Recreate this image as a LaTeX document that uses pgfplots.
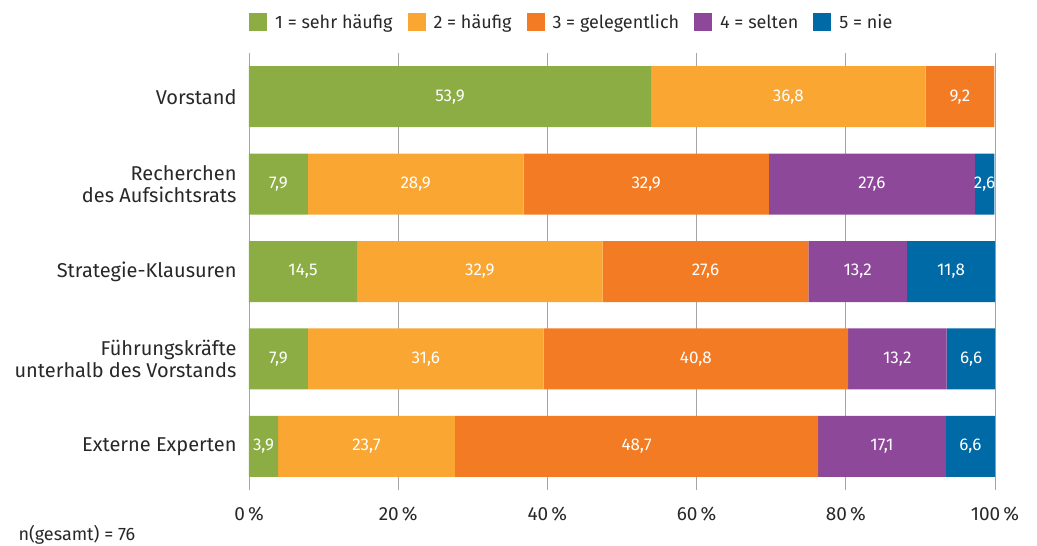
\documentclass[border=0pt]{standalone}
\usepackage{fontspec}
\setmainfont{Fira Sans}
\usepackage{pgfplots}
\usepackage{pgfplotstable}
\pgfplotsset{compat=1.18}

\definecolor{cgreen}{RGB}{139,173,67}
\definecolor{corange}{RGB}{249,166,51}
\definecolor{cdarkorange}{RGB}{243,123,35}
\definecolor{cpurple}{RGB}{142,72,153}
\definecolor{cblue}{RGB}{0,106,166}
\definecolor{cgrid}{RGB}{165,165,165}
\definecolor{ctext}{RGB}{40,40,40}

% Anteile in Prozent je Quelle (1 = sehr häufig ... 5 = nie)
\pgfplotstableread{
y s1   s2   s3   s4   s5
0 53.9 36.8 9.2  0    0
1 7.9  28.9 32.9 27.6 2.6
2 14.5 32.9 27.6 13.2 11.8
3 7.9  31.6 40.8 13.2 6.6
4 3.9  23.7 48.7 17.1 6.6
}\quellen

\pgfplotsset{
  frame/.style={
    at={(0,0)}, anchor=south west,
    scale only axis, width=746pt, height=437pt,
    xmin=0, xmax=100, ymin=-0.5, ymax=4.5, y dir=reverse,
  },
  seg/.style={draw=none, fill=#1},
  lbl/.style={only marks, mark=*, mark size=0pt, mark options={draw=none, fill=none}},
}

\begin{document}
\begin{tikzpicture}
\path[use as bounding box] (-249pt,-56pt) rectangle (788pt,490pt);
% gestapelte Balken
\begin{axis}[
  frame,
  xbar stacked, bar width=61pt,
  xtick={0,20,40,60,80,100},
  xticklabels={0\,\%,20\,\%,40\,\%,60\,\%,80\,\%,100\,\%},
  ytick={0,1,2,3,4},
  yticklabels={Vorstand,{Recherchen\\des Aufsichtsrats},Strategie-Klausuren,{Führungskräfte\\unterhalb des Vorstands},Externe Experten},
  yticklabel style={align=right, font=\fontsize{20}{22}\selectfont, text=ctext, xshift=-9pt},
  xticklabel style={font=\fontsize{19}{22}\selectfont, text=ctext, yshift=-13pt},
  major tick length=0pt,
  xmajorgrids, grid style={cgrid, line width=0.9pt},
  x axis line style={draw=none},
  y axis line style={cgrid, line width=0.9pt},
  legend columns=5,
  legend style={at={(axis description cs:0,1)}, anchor=north west, yshift=40pt,
    draw=none, fill=none, inner sep=0pt, font=\fontsize{18}{20}\selectfont, text=ctext,
    nodes={inner sep=0pt},
    /tikz/every odd column/.append style={column sep=8pt},
    /tikz/every even column/.append style={column sep=15pt}},
  legend image code/.code={\fill[#1] (0pt,-9pt) rectangle (18pt,9pt);},
]
\addplot[seg=cgreen] table[x=s1,y=y]{\quellen};
\addplot[seg=corange] table[x=s2,y=y]{\quellen};
\addplot[seg=cdarkorange] table[x=s3,y=y]{\quellen};
\addplot[seg=cpurple] table[x=s4,y=y]{\quellen};
\addplot[seg=cblue] table[x=s5,y=y]{\quellen};
\legend{1 = sehr häufig, 2 = häufig, 3 = gelegentlich, 4 = selten, 5 = nie}
\end{axis}
% Werte mittig in den Segmenten
\begin{axis}[
  frame, hide axis,
  point meta=explicit symbolic,
  nodes near coords={\ifdim\pgfplotspointmeta pt>0pt\pgfmathprintnumber[fixed,fixed zerofill,precision=1,use comma,assume math mode=true]{\pgfplotspointmeta}\fi},
  every node near coord/.append style={anchor=center, text=white, font=\fontsize{17}{17}\selectfont},
]
\addplot[lbl] table[x expr={0.5*\thisrow{s1}}, y=y, meta=s1]{\quellen};
\addplot[lbl] table[x expr={\thisrow{s1}+0.5*\thisrow{s2}}, y=y, meta=s2]{\quellen};
\addplot[lbl] table[x expr={\thisrow{s1}+\thisrow{s2}+0.5*\thisrow{s3}}, y=y, meta=s3]{\quellen};
\addplot[lbl] table[x expr={\thisrow{s1}+\thisrow{s2}+\thisrow{s3}+0.5*\thisrow{s4}}, y=y, meta=s4]{\quellen};
\addplot[lbl] table[x expr={\thisrow{s1}+\thisrow{s2}+\thisrow{s3}+\thisrow{s4}+0.5*\thisrow{s5}}, y=y, meta=s5]{\quellen};
\end{axis}
\node[anchor=base west, font=\fontsize{18}{20}\selectfont, text=ctext] at (-234pt,-51pt) {n(gesamt) = 76};
\end{tikzpicture}
\end{document}
